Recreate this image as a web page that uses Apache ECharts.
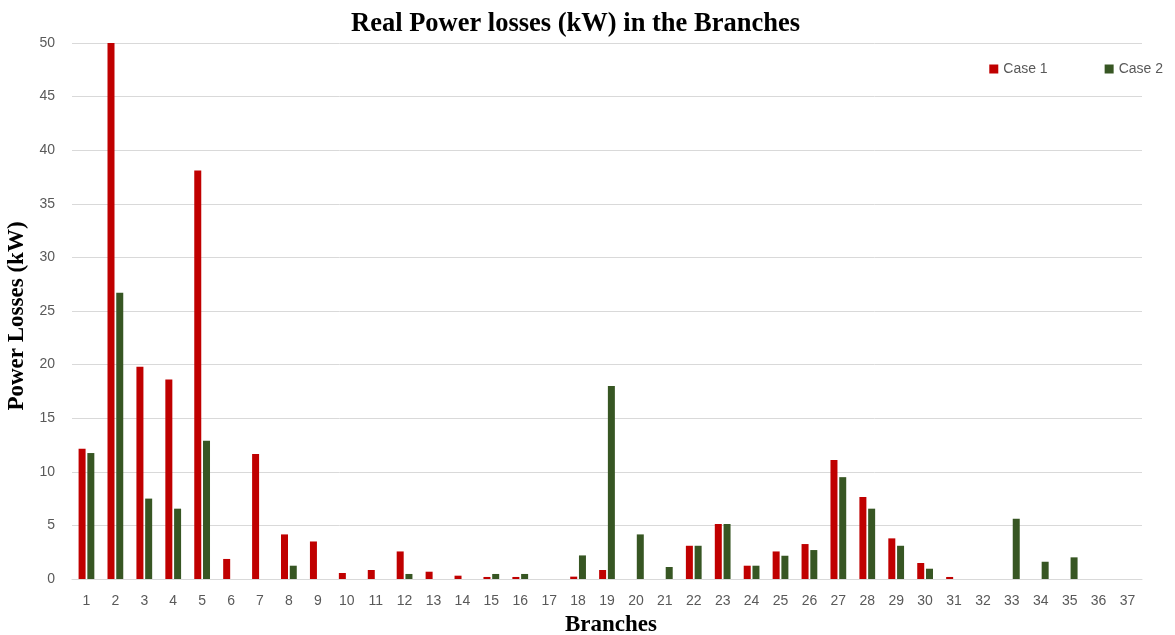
<!DOCTYPE html>
<html>
<head>
<meta charset="utf-8">
<script src="https://cdn.jsdelivr.net/npm/echarts@6/dist/echarts.min.js"></script>
<style>
html,body{margin:0;padding:0;background:#fff;}
#chart{width:1175px;height:635px;}
</style>
</head>
<body>
<div id="chart"></div>
<script>
const branches = ['1','2','3','4','5','6','7','8','9','10','11','12','13','14','15','16','17','18','19','20','21','22','23','24','25','26','27','28','29','30','31','32','33','34','35','36','37'];
const case1 = [12.15,50,19.8,18.6,38.1,1.87,11.66,4.16,3.5,0.56,0.84,2.57,0.68,0.31,0.19,0.19,0,0.22,0.84,0,0,3.1,5.13,1.24,2.57,3.26,11.1,7.65,3.79,1.49,0.19,0,0,0,0,0,0];
const case2 = [11.75,26.7,7.5,6.56,12.9,0,0,1.24,0,0,0,0.47,0,0,0.47,0.47,0,2.2,18.0,4.16,1.12,3.1,5.13,1.24,2.17,2.7,9.5,6.56,3.1,0.96,0,0,5.62,1.61,2.02,0,0];

const chart = echarts.init(document.getElementById('chart'));
chart.setOption({
  animation: false,
  backgroundColor: '#fff',
  title: {
    text: 'Real Power losses (kW) in the Branches',
    left: 346,
    top: 6,
    textStyle: {fontFamily: 'Liberation Serif', fontWeight: 'bold', fontSize: 26.5, color: '#000'}
  },
  legend: {
    right: 7,
    top: 57,
    itemWidth: 9,
    itemHeight: 9,
    itemGap: 57,
    icon: 'rect',
    textStyle: {fontFamily: 'Liberation Sans', fontSize: 14, color: '#595959'},
    data: ['Case 1', 'Case 2']
  },
  grid: {left: 72, right: 33, top: 43, bottom: 56, outerBoundsMode: 'none', containLabel: false},
  xAxis: {
    type: 'category',
    data: branches,
    name: 'Branches',
    nameLocation: 'middle',
    nameGap: 35,
    nameTextStyle: {fontFamily: 'Liberation Serif', fontWeight: 'bold', fontSize: 23, color: '#000', padding: [0, 0, 0, 8]},
    axisLine: {lineStyle: {color: '#d9d9d9'}},
    axisTick: {show: false},
    axisLabel: {fontFamily: 'Liberation Sans', fontSize: 14, color: '#595959', margin: 15, interval: 0}
  },
  yAxis: {
    type: 'value',
    min: 0,
    max: 50,
    interval: 5,
    name: 'Power Losses (kW)',
    nameLocation: 'middle',
    nameGap: 33,
    nameTextStyle: {fontFamily: 'Liberation Serif', fontWeight: 'bold', fontSize: 23, color: '#000', padding: [0, 10, 0, 0]},
    axisLine: {show: false},
    axisTick: {show: false},
    axisLabel: {fontFamily: 'Liberation Sans', fontSize: 14, color: '#595959', margin: 17},
    splitLine: {lineStyle: {color: '#d9d9d9'}}
  },
  series: [
    {
      name: 'Case 1',
      type: 'bar',
      data: case1,
      barWidth: 7,
      barGap: '25%',
      itemStyle: {color: '#C00000'}
    },
    {
      name: 'Case 2',
      type: 'bar',
      data: case2,
      barWidth: 7,
      itemStyle: {color: '#375623'}
    }
  ]
});
</script>
</body>
</html>
